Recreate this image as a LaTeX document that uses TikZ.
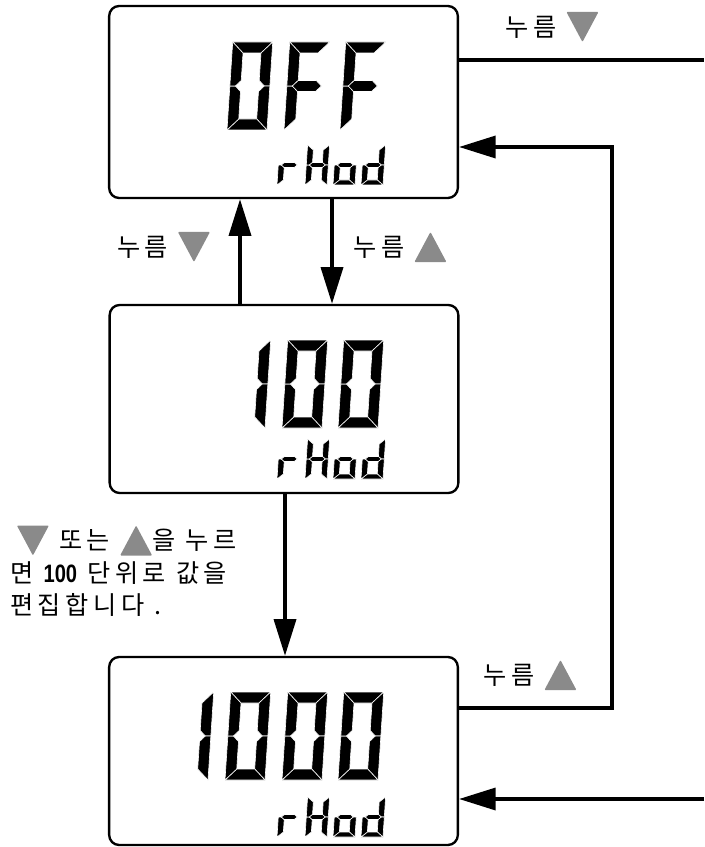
\documentclass[tikz,border=0pt]{standalone}
\usepackage{fontspec}
\setmainfont{Noto Sans CJK KR}[LetterSpace=18]
\newfontfamily\numfont{Liberation Sans}[FakeStretch=0.8]
\usetikzlibrary{arrows.meta}
\definecolor{KeyGray}{RGB}{138,138,138}
\tikzset{
    lcdbox/.style={draw, line width=2pt, rounded corners=0.3cm, minimum width=10.46cm, inner sep=0pt},
    lcdseg/.style={fill=black, draw=white, line width=0.5pt},
    flowline/.style={line width=3pt},
    flowarr/.style={-{Triangle[length=1.1cm, width=0.66cm]}, line width=3pt},
    keylbl/.style={font=\fontsize{21.5}{27.6}\selectfont, inner sep=0pt},
}
% seven-segment outlines, cell 40 x 88, y up
\def\lcdsega{(0,88) -- (40,88) -- (29,77) -- (11,77) -- cycle}
\def\lcdsegb{(40,88) -- (40,44) -- (34.5,44) -- (29,49.5) -- (29,77) -- cycle}
\def\lcdsegc{(40,44) -- (40,0) -- (29,11) -- (29,38.5) -- (34.5,44) -- cycle}
\def\lcdsegd{(0,0) -- (11,11) -- (29,11) -- (40,0) -- cycle}
\def\lcdsege{(0,44) -- (5.5,44) -- (11,38.5) -- (11,11) -- (0,0) -- cycle}
\def\lcdsegf{(0,88) -- (11,77) -- (11,49.5) -- (5.5,44) -- (0,44) -- cycle}
\def\lcdsegg{(5.5,44) -- (11,49.5) -- (29,49.5) -- (34.5,44) -- (29,38.5) -- (11,38.5) -- cycle}
% \lcdchar{x}{bottom y}{xscale}{yscale}{segments}
\newcommand{\lcdchar}[5]{%
  \begin{scope}[shift={(#1,#2)}, xslant=0.065, yscale=-1, xscale=#3, yscale=#4]
    \foreach \s in {#5} {\expandafter\let\expandafter\lcdcur\csname lcdseg\s\endcsname
      \fill[lcdseg] \lcdcur;}
  \end{scope}}
\newcommand{\keydown}{\tikz[baseline=0.17cm]\fill[KeyGray, rounded corners=0.8pt] (0,0.9cm) -- (0.96cm,0.9cm) -- (0.48cm,0) -- cycle;}
\newcommand{\keyup}{\tikz[baseline=0.17cm]\fill[KeyGray, rounded corners=0.8pt] (0,0) -- (0.96cm,0) -- (0.48cm,0.9cm) -- cycle;}

\begin{document}
\begin{tikzpicture}[x=0.03cm, y=-0.03cm]
\useasboundingbox (0,0) rectangle (704,847);

\node[lcdbox, minimum height=5.76cm] (off) at (283.5,102) {};
\node[lcdbox, minimum height=5.64cm] (hundred) at (284,399) {};
\node[lcdbox, minimum height=5.64cm] (thousand) at (283.5,751) {};

% display: 0FF / rHod
\lcdchar{227}{130}{1}{1}{a,b,c,d,e,f}
\lcdchar{284}{130}{1}{1}{a,e,f,g}
\lcdchar{340}{130}{1}{1}{a,e,f,g}
\lcdchar{277}{185}{0.55}{0.4545}{e,g}
\lcdchar{305}{185}{0.55}{0.4545}{b,c,e,f,g}
\lcdchar{333}{185}{0.55}{0.4545}{c,d,e,g}
\lcdchar{361}{185}{0.55}{0.4545}{b,c,d,e,g}

% display: 100 / rHod
\lcdchar{225}{428}{1}{1}{b,c}
\lcdchar{282}{428}{1}{1}{a,b,c,d,e,f}
\lcdchar{338}{428}{1}{1}{a,b,c,d,e,f}
\lcdchar{277}{479}{0.55}{0.4545}{e,g}
\lcdchar{305}{479}{0.55}{0.4545}{b,c,e,f,g}
\lcdchar{333}{479}{0.55}{0.4545}{c,d,e,g}
\lcdchar{361}{479}{0.55}{0.4545}{b,c,d,e,g}

% display: 1000 / rHod
\lcdchar{168}{780}{1}{1}{b,c}
\lcdchar{225}{780}{1}{1}{a,b,c,d,e,f}
\lcdchar{282}{780}{1}{1}{a,b,c,d,e,f}
\lcdchar{338}{780}{1}{1}{a,b,c,d,e,f}
\lcdchar{277}{837}{0.55}{0.4545}{e,g}
\lcdchar{305}{837}{0.55}{0.4545}{b,c,e,f,g}
\lcdchar{333}{837}{0.55}{0.4545}{c,d,e,g}
\lcdchar{361}{837}{0.55}{0.4545}{b,c,d,e,g}

\node[keylbl] (presstop) at (552,27) {누름\hspace{0.3cm}\keydown};
\node[keylbl] (pressdn) at (163.5,247) {누름\hspace{0.3cm}\keydown};
\node[keylbl] (pressup) at (400,247) {누름\hspace{0.3cm}\keyup};
\node[keylbl] (pressret) at (530,675) {누름\hspace{0.3cm}\keyup};
\node[keylbl, anchor=west, align=left] (note) at (10,571)
    {\hspace{0.2cm}\keydown\ 또는 \keyup 을 누르\\면 {\numfont\bfseries 100} 단위로 값을\\편집합니다 .};

\coordinate (exittop) at (704,60);
\coordinate (rettop) at (612,147);
\coordinate (retbot) at (612,708);
\coordinate (entrybot) at (704,799);

\draw[flowarr] (hundred.north -| 240,0) -- (off.south -| 240,0);
\draw[flowarr] (off.south -| 332,0) -- (hundred.north -| 332,0);
\draw[flowarr] (hundred.south -| 285,0) -- (thousand.north -| 285,0);
\draw[flowline] (off.east |- exittop) -- (exittop);
\draw[flowarr] (thousand.east |- retbot) -- (retbot) -- (rettop) -- (off.east |- rettop);
\draw[flowarr] (entrybot) -- (thousand.east |- entrybot);
\end{tikzpicture}
\end{document}
